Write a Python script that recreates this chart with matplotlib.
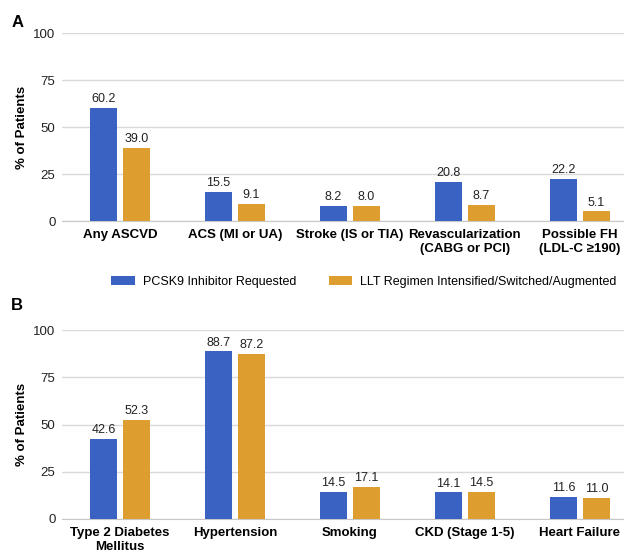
import matplotlib.pyplot as plt
import numpy as np

plt.rcParams['font.family'] = ['Liberation Sans', 'DejaVu Sans']

cats_a = ['Any ASCVD', 'ACS (MI or UA)', 'Stroke (IS or TIA)',
          'Revascularization\n(CABG or PCI)', 'Possible FH\n(LDL-C \u2265190)']
pcsk9_a = [60.2, 15.5, 8.2, 20.8, 22.2]
llt_a = [39.0, 9.1, 8.0, 8.7, 5.1]

cats_b = ['Type 2 Diabetes\nMellitus', 'Hypertension', 'Smoking',
          'CKD (Stage 1-5)', 'Heart Failure']
pcsk9_b = [42.6, 88.7, 14.5, 14.1, 11.6]
llt_b = [52.3, 87.2, 17.1, 14.5, 11.0]

series_names = ['PCSK9 Inhibitor Requested', 'LLT Regimen Intensified/Switched/Augmented']
blue = '#3A62C3'
orange = '#DE9D2F'

fig = plt.figure(figsize=(6.24, 5.54), dpi=100)
ax_a = fig.add_axes([0.1, 0.601, 0.9215, 0.3394])
ax_b = fig.add_axes([0.1, 0.0632, 0.9215, 0.341])

w = 0.235
off = 0.1435


def draw(ax, cats, v1, v2):
    x = np.arange(len(cats))
    b1 = ax.bar(x - off, v1, w, color=blue, label=series_names[0], zorder=3)
    b2 = ax.bar(x + off, v2, w, color=orange, label=series_names[1], zorder=3)
    for bars in (b1, b2):
        for r in bars:
            ax.text(r.get_x() + r.get_width() / 2, r.get_height() + 1.5,
                    f'{r.get_height():.1f}', ha='center', va='bottom',
                    fontsize=9, color='#222222')
    ax.set_xlim(-0.5, len(cats) - 0.5)
    ax.set_ylim(0, 100)
    ax.set_yticks([0, 25, 50, 75, 100])
    ax.set_xticks(x)
    ax.set_xticklabels(cats, fontsize=9.5, fontweight='bold', linespacing=1.2)
    ax.tick_params(axis='x', length=0, pad=6)
    ax.tick_params(axis='y', length=0, pad=5, labelsize=9.5, labelcolor='#222222')
    ax.grid(axis='y', color='#D9D9D9', lw=1, zorder=0)
    for s in ('top', 'right', 'left'):
        ax.spines[s].set_visible(False)
    ax.spines['bottom'].set_color('#C8C8C8')
    ax.set_ylabel('% of Patients', fontsize=9.5, fontweight='bold', labelpad=4)
    return b1, b2


h = draw(ax_a, cats_a, pcsk9_a, llt_a)
draw(ax_b, cats_b, pcsk9_b, llt_b)

fig.legend(h, series_names, loc='center', bbox_to_anchor=(0.583, 0.491), ncol=2,
           frameon=False, fontsize=9, handlelength=1.9, handleheight=0.75,
           columnspacing=2.6, handletextpad=0.6, borderpad=0.2)

fig.text(0.018, 0.96, 'A', fontsize=12, fontweight='bold', va='center')
fig.text(0.018, 0.448, 'B', fontsize=12, fontweight='bold', va='center')

fig.savefig('out.png', dpi=100)
